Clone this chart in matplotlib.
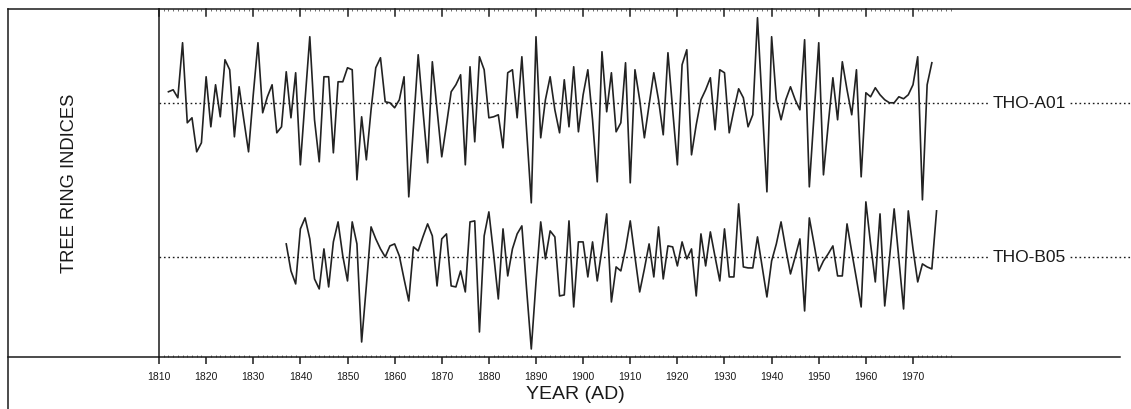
import matplotlib
matplotlib.use("Agg")
import matplotlib.pyplot as plt
import numpy as np
from matplotlib.lines import Line2D
from matplotlib.ticker import FixedLocator

plt.rcParams["font.family"] = ["Liberation Sans", "DejaVu Sans"]

# ring-width indices, one value per year
a01_start = 1812
a01_index = [
	1.11, 1.13, 1.05, 1.60, 0.80, 0.85, 0.51, 0.60,                    # 1812-1819
	1.26, 0.76, 1.18, 0.86, 1.43, 1.33, 0.66, 1.16, 0.83, 0.51,        # 1820s
	1.08, 1.60, 0.90, 1.06, 1.18, 0.70, 0.76, 1.31, 0.85, 1.30,        # 1830s
	0.38, 1.03, 1.66, 0.83, 0.41, 1.26, 1.26, 0.50, 1.21, 1.21,        # 1840s
	1.35, 1.33, 0.23, 0.86, 0.43, 0.93, 1.35, 1.45, 1.01, 1.00,        # 1850s
	0.95, 1.03, 1.26, 0.06, 0.77, 1.48, 0.93, 0.40, 1.41, 0.93,        # 1860s
	0.46, 0.78, 1.11, 1.18, 1.28, 0.38, 1.36, 0.61, 1.46, 1.33,        # 1870s
	0.85, 0.86, 0.88, 0.55, 1.30, 1.33, 0.85, 1.46, 0.73, 0.00,        # 1880s
	1.66, 0.65, 1.03, 1.26, 0.93, 0.70, 1.23, 0.76, 1.36, 0.71,        # 1890s
	1.08, 1.33, 0.83, 0.21, 1.51, 0.91, 1.30, 0.71, 0.80, 1.40,        # 1900s
	0.20, 1.33, 1.03, 0.65, 0.98, 1.30, 1.03, 0.68, 1.50, 0.93,        # 1910s
	0.38, 1.38, 1.53, 0.48, 0.78, 1.03, 1.13, 1.25, 0.73, 1.33,        # 1920s
	1.30, 0.70, 0.93, 1.14, 1.05, 0.76, 0.88, 1.85, 0.98, 0.11,        # 1930s
	1.66, 1.03, 0.83, 1.03, 1.16, 1.03, 0.93, 1.63, 0.16, 0.88,        # 1940s
	1.60, 0.28, 0.78, 1.25, 0.83, 1.41, 1.13, 0.88, 1.33, 0.26,        # 1950s
	1.10, 1.06, 1.15, 1.08, 1.03, 1.00, 1.00, 1.06, 1.04, 1.08,        # 1960s
	1.18, 1.46, 0.03, 1.18, 1.40,                                      # 1970-1974
]

b05_start = 1837
b05_index = [
	1.13, 0.86, 0.73,                                                  # 1837-1839
	1.28, 1.39, 1.18, 0.78, 0.68, 1.08, 0.70, 1.15, 1.35, 1.01,        # 1840s
	0.76, 1.35, 1.13, 0.15, 0.71, 1.30, 1.18, 1.08, 1.00, 1.11,        # 1850s
	1.13, 1.01, 0.78, 0.56, 1.10, 1.06, 1.20, 1.33, 1.21, 0.71,        # 1860s
	1.18, 1.23, 0.71, 0.70, 0.86, 0.65, 1.35, 1.36, 0.25, 1.21,        # 1870s
	1.45, 1.03, 0.58, 1.28, 0.81, 1.08, 1.23, 1.31, 0.68, 0.08,        # 1880s
	0.75, 1.35, 0.98, 1.26, 1.20, 0.61, 0.62, 1.36, 0.50, 1.15,        # 1890s
	1.15, 0.80, 1.15, 0.76, 1.08, 1.43, 0.55, 0.90, 0.86, 1.08,        # 1900s
	1.36, 1.00, 0.65, 0.88, 1.13, 0.80, 1.30, 0.78, 1.11, 1.10,        # 1910s
	0.91, 1.15, 0.98, 1.08, 0.61, 1.23, 0.91, 1.25, 1.00, 0.76,        # 1920s
	1.28, 0.80, 0.80, 1.53, 0.90, 0.89, 0.89, 1.20, 0.90, 0.60,        # 1930s
	0.96, 1.13, 1.35, 1.08, 0.83, 1.00, 1.18, 0.46, 1.39, 1.13,        # 1940s
	0.86, 0.96, 1.03, 1.11, 0.81, 0.81, 1.33, 1.05, 0.78, 0.50,        # 1950s
	1.55, 1.13, 0.75, 1.43, 0.51, 0.98, 1.48, 0.98, 0.48, 1.46,        # 1960s
	1.08, 0.75, 0.93, 0.90, 0.88, 1.46,                                # 1970-1975
]

series_names = ["THO-A01", "THO-B05"]
series_offsets = [1.54, 0.0]    # vertical stacking of the two curves
tick_years = list(range(1810, 1971, 10))

W, H = 1131, 410
fig = plt.figure(figsize=(W / 100, H / 100), dpi=100)

ax_left, ax_top, ax_bottom = 159, 10, 358
ax = fig.add_axes([ax_left / W, 1 - ax_bottom / H, 1 - ax_left / W, (ax_bottom - ax_top) / H])
px_per_year = 4.7125
ax.set_xlim(1810, 1810 + (W - ax_left) / px_per_year)
ax.set_ylim(0.0, 3.477)

ink = "#1a1a1a"
a01_years = np.arange(a01_start, a01_start + len(a01_index))
b05_years = np.arange(b05_start, b05_start + len(b05_index))
for years, vals, off, name in zip([a01_years, b05_years], [a01_index, b05_index], series_offsets, series_names):
	ax.axhline(1.0 + off, color=ink, lw=1.0, ls=(0, (1.2, 2.0)), zorder=1)
	ax.plot(years, np.array(vals) + off, color="#222222", lw=1.2, zorder=3)
	ax.text(1994.6, 1.0 + off, name, ha="center", va="center", fontsize=12.5, color=ink,
		bbox=dict(facecolor="white", edgecolor="none", pad=1.5), zorder=4)

# axis styling
ax.spines["right"].set_visible(False)
for side in ["left", "top", "bottom"]:
	ax.spines[side].set_linewidth(1.1)
	ax.spines[side].set_color(ink)
ax.spines["bottom"].set_bounds(1810, 1810 + (1120 - ax_left) / px_per_year)

ax.set_yticks([])
ax.xaxis.set_major_locator(FixedLocator(tick_years))
ax.xaxis.set_minor_locator(FixedLocator(np.arange(1810, 1979)))
ax.set_xticklabels([str(y) for y in tick_years], fontsize=7.5, color=ink)
ax.tick_params(axis="x", which="major", direction="out", length=5, width=1.1, color=ink, pad=5, top=False)
ax.tick_params(axis="x", which="minor", direction="in", length=1.5, width=0.6, color="#555555", top=True, bottom=True)
# major ticks along the top edge point down into the plot
for yr in tick_years:
	ax.plot([yr, yr], [3.477, 3.477 - 0.07], color=ink, lw=1.1, clip_on=False, zorder=5)

ax.set_xlabel("YEAR (AD)", fontsize=14, color=ink, labelpad=2)
ax.xaxis.set_label_coords((575 - ax_left) / (W - ax_left), -(395 - ax_bottom) / (ax_bottom - ax_top))
ax.xaxis.label.set_va("center")

fig.text(70 / W, 1 - 183 / H, "TREE RING INDICES", rotation=90, ha="center", va="center",
	fontsize=13.2, color=ink)

# outer frame pieces left of the plot
def fig_line(x0, y0, x1, y1):
	fig.add_artist(Line2D([x0 / W, x1 / W], [1 - y0 / H, 1 - y1 / H], color=ink, lw=1.1,
		transform=fig.transFigure))

fig_line(8, 10, ax_left, 10)
fig_line(8, ax_bottom, ax_left, ax_bottom)
fig_line(8, 10, 8, H)

fig.savefig("out.png", dpi=100, facecolor="white")
